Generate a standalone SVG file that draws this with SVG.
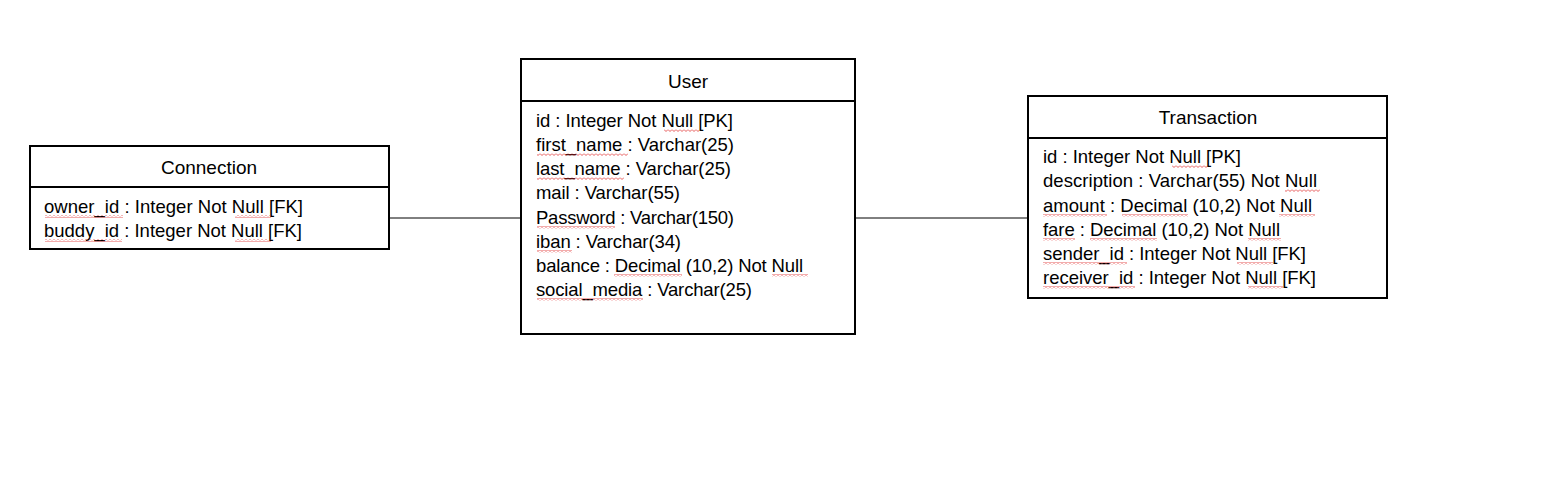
<svg xmlns="http://www.w3.org/2000/svg" width="1561" height="497" viewBox="0 0 1561 497">
<style>
.box{fill:#fff;stroke:#000;stroke-width:2}
.div{stroke:#000;stroke-width:2}
.t{font-family:"Liberation Sans",Arial,sans-serif;font-size:18.5px;fill:#000}
.h{text-anchor:middle;font-size:19px}
.c{stroke:#000;stroke-width:1;fill:none}
.sq{fill:url(#sq)}
</style>
<defs>
<pattern id="sq" width="4" height="3" patternUnits="userSpaceOnUse">
<path d="M0,0.5 L2,2.5 L4,0.5" fill="none" stroke="#e03030" stroke-width="0.8"/>
</pattern>
</defs>
<rect width="1561" height="497" fill="#fff"/>
<g id="connectors">
<line class="c" x1="389" y1="218" x2="521" y2="218"/>
<line class="c" x1="855" y1="218" x2="1028" y2="218"/>
</g>
<g id="connection">
<rect class="box" x="30" y="146" width="359" height="103"/>
<line class="div" x1="30" y1="187" x2="389" y2="187"/>
<text class="t h" x="209" y="174">Connection</text>
<text class="t" x="44" y="213" textLength="259">owner_id : Integer Not Null [FK]</text>
<text class="t" x="44" y="237" textLength="258">buddy_id : Integer Not Null [FK]</text>
<rect class="sq" x="45" y="215" width="78" height="3"/>
<rect class="sq" x="235" y="215" width="36" height="3"/>
<rect class="sq" x="45" y="239" width="77" height="3"/>
<rect class="sq" x="235" y="239" width="36" height="3"/>
</g>
<g id="user">
<rect class="box" x="521" y="59" width="334" height="275"/>
<line class="div" x1="521" y1="101" x2="855" y2="101"/>
<text class="t h" x="688" y="88">User</text>
<text class="t" x="536" y="127" textLength="197">id : Integer Not Null [PK]</text>
<text class="t" x="536" y="151" textLength="198">first_name : Varchar(25)</text>
<text class="t" x="536" y="175" textLength="195">last_name : Varchar(25)</text>
<text class="t" x="536" y="199" textLength="144">mail : Varchar(55)</text>
<text class="t" x="536" y="224" textLength="198">Password : Varchar(150)</text>
<text class="t" x="536" y="248" textLength="145">iban : Varchar(34)</text>
<text class="t" x="536" y="272" textLength="267">balance : Decimal (10,2) Not Null</text>
<text class="t" x="536" y="296" textLength="216">social_media : Varchar(25)</text>
<rect class="sq" x="664" y="129" width="35" height="3"/>
<rect class="sq" x="537" y="153" width="91" height="3"/>
<rect class="sq" x="537" y="177" width="87" height="3"/>
<rect class="sq" x="537" y="226" width="78" height="3"/>
<rect class="sq" x="537" y="250" width="35" height="3"/>
<rect class="sq" x="614" y="274" width="68" height="3"/>
<rect class="sq" x="772" y="274" width="36" height="3"/>
<rect class="sq" x="537" y="298" width="106" height="3"/>
</g>
<g id="transaction">
<rect class="box" x="1028" y="96" width="359" height="202"/>
<line class="div" x1="1028" y1="138" x2="1387" y2="138"/>
<text class="t h" x="1208" y="124">Transaction</text>
<text class="t" x="1043" y="163" textLength="198">id : Integer Not Null [PK]</text>
<text class="t" x="1043" y="187" textLength="274">description : Varchar(55) Not Null</text>
<text class="t" x="1043" y="212" textLength="269">amount : Decimal (10,2) Not Null</text>
<text class="t" x="1043" y="236" textLength="237">fare : Decimal (10,2) Not Null</text>
<text class="t" x="1043" y="260" textLength="263">sender_id : Integer Not Null [FK]</text>
<text class="t" x="1043" y="284" textLength="273">receiver_id : Integer Not Null [FK]</text>
<rect class="sq" x="1172" y="165" width="35" height="3"/>
<rect class="sq" x="1285" y="189" width="35" height="3"/>
<rect class="sq" x="1043" y="214" width="64" height="3"/>
<rect class="sq" x="1122" y="214" width="66" height="3"/>
<rect class="sq" x="1279" y="214" width="36" height="3"/>
<rect class="sq" x="1043" y="238" width="32" height="3"/>
<rect class="sq" x="1090" y="238" width="67" height="3"/>
<rect class="sq" x="1248" y="238" width="33" height="3"/>
<rect class="sq" x="1043" y="262" width="84" height="3"/>
<rect class="sq" x="1237" y="262" width="36" height="3"/>
<rect class="sq" x="1043" y="286" width="92" height="3"/>
<rect class="sq" x="1248" y="286" width="35" height="3"/>
</g>
</svg>
